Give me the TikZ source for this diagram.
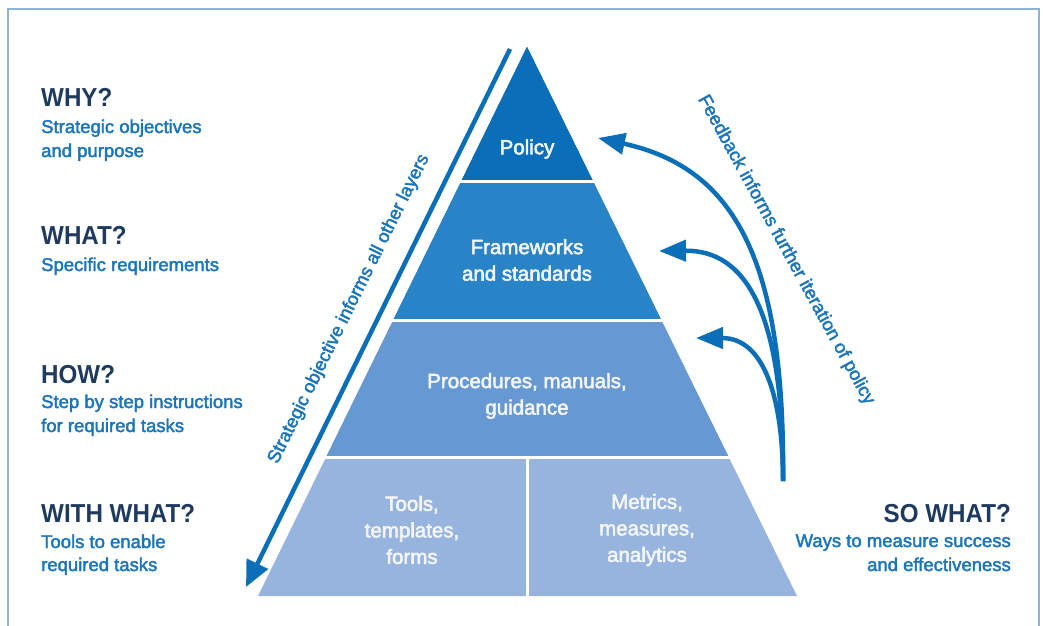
\documentclass[tikz,border=0pt]{standalone}
\usepackage{fontspec}
\setmainfont{Liberation Sans}
\newfontfamily\medf{Liberation Sans}[FakeBold=2.2]
\newfontfamily\layf{Liberation Sans}[FakeBold=2.8]
\newfontfamily\headf{Liberation Sans}[FakeStretch=0.93]
\usetikzlibrary{arrows.meta,calc}
\definecolor{navy}{HTML}{1E3A5F}
\definecolor{tblue}{HTML}{1B75BB}
\definecolor{ablue}{HTML}{0A6EB8}
\definecolor{framec}{HTML}{8DB3D9}
\definecolor{cpol}{HTML}{0A6EB8}
\definecolor{cfw}{HTML}{2884C6}
\definecolor{cproc}{HTML}{6699D1}
\definecolor{cbot}{HTML}{96B4DE}
\definecolor{ltext}{HTML}{F2F4F7}
\tikzset{
  head/.style={inner sep=0, text=navy, font=\headf\bfseries\fontsize{26}{30}\selectfont},
  sub/.style={inner sep=0, text=tblue, font=\medf\fontsize{18.5}{24}\selectfont},
  layertext/.style={inner sep=0, text=ltext, align=center, font=\layf\fontsize{20.5}{26.5}\selectfont},
  rottext/.style={inner sep=0, text=tblue, font=\medf\fontsize{18.5}{22}\selectfont},
  sep/.style={white, line width=3pt},
  fb/.style={ablue, line width=4.5pt, -{Triangle[length=27pt,width=21pt]}},
}
\begin{document}
\begin{tikzpicture}[x=1pt,y=-1pt]
\useasboundingbox (0,0) rectangle (1043,625);
\begin{scope}
\clip (0,0) rectangle (1043,625);
\draw[framec, line width=2pt] (8,660) -- (8,9) -- (1039,9) -- (1039,660);
\end{scope}

% pyramid
\coordinate (A) at (527,47);
\coordinate (BL) at (258,596);
\coordinate (BR) at (797,596);
\coordinate (L1) at ($(A)!0.2441!(BL)$);
\coordinate (R1) at ($(A)!0.2441!(BR)$);
\coordinate (L2) at ($(A)!0.4973!(BL)$);
\coordinate (R2) at ($(A)!0.4973!(BR)$);
\coordinate (L3) at ($(A)!0.7486!(BL)$);
\coordinate (R3) at ($(A)!0.7486!(BR)$);
\coordinate (M3) at (527,458);
\coordinate (MB) at (527,596);
\fill[cbot] (A) -- (BL) -- (BR) -- cycle;
\fill[cproc] (A) -- (L3) -- (R3) -- cycle;
\fill[cfw] (A) -- (L2) -- (R2) -- cycle;
\fill[cpol] (A) -- (L1) -- (R1) -- cycle;
\draw[sep] ($(L1)+(-3,0)$) -- ($(R1)+(3,0)$);
\draw[sep] ($(L2)+(-3,0)$) -- ($(R2)+(3,0)$);
\draw[sep] ($(L3)+(-3,0)$) -- ($(R3)+(3,0)$);
\draw[sep] (M3) -- (MB);

\node[layertext] (policy) at (527,149) {Policy};
\node[layertext] (frame) at (527,260) {Frameworks\\and standards};
\node[layertext] (proc) at (527,396) {Procedures, manuals,\\guidance};
\node[layertext] (tools) at (412,530) {Tools,\\templates,\\forms};
\node[layertext] (metrics) at (647,530) {Metrics,\\measures,\\analytics};

% strategic arrow
\coordinate (s1) at (510,49);
\coordinate (s2) at (246,587);
\draw[ablue, line width=4.5pt, -{Triangle[length=26pt,width=23pt]}] (s1) -- (s2);
\node[rottext, rotate=63.7] (strat) at (349,309) {Strategic objective informs all other layers};

% feedback arrows
\coordinate (f0) at (783,481);
\coordinate (t1) at (598,138);
\coordinate (t2) at (659,251);
\coordinate (t3) at (696,338);
\draw[fb] (f0) .. controls (785,260) and (735,168) .. (t1);
\draw[fb] (f0) .. controls (784,310) and (745,250) .. (t2);
\draw[fb] (f0) .. controls (783,400) and (765,338) .. (t3);
\node[rottext, rotate=-61.3] (feed) at (786,250) {Feedback informs further iteration of policy};

% left column
\node[head, anchor=base west] (why) at (41,106) {WHY?};
\node[sub, anchor=base west] (why1) at (41,133) {Strategic objectives};
\node[sub, anchor=base west] (why2) at (41,157) {and purpose};

\node[head, anchor=base west] (what) at (41,244) {WHAT?};
\node[sub, anchor=base west] (what1) at (41,271) {Specific requirements};

\node[head, anchor=base west] (how) at (41,383) {HOW?};
\node[sub, anchor=base west] (how1) at (41,408) {Step by step instructions};
\node[sub, anchor=base west] (how2) at (41,432) {for required tasks};

\node[head, anchor=base west] (with) at (41,522) {WITH WHAT?};
\node[sub, anchor=base west] (with1) at (41,548) {Tools to enable};
\node[sub, anchor=base west] (with2) at (41,571) {required tasks};

% right column
\node[head, anchor=base east] (so) at (1011,522) {SO WHAT?};
\node[sub, anchor=base east] (so1) at (1011,547) {Ways to measure success};
\node[sub, anchor=base east] (so2) at (1011,571) {and effectiveness};
\end{tikzpicture}
\end{document}
